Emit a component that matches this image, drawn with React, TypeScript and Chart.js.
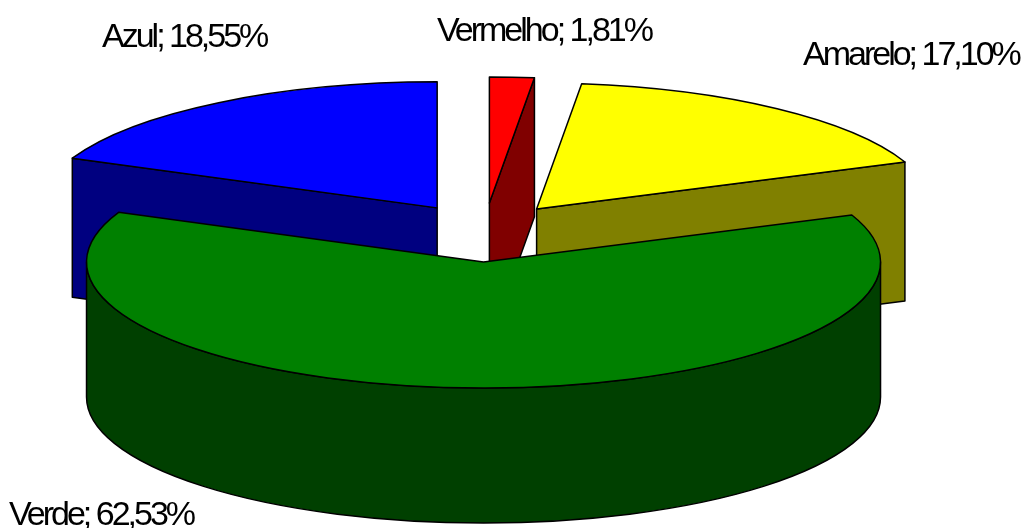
import React, { useEffect, useRef } from "react";
import { Chart, registerables } from "chart.js";

Chart.register(...registerables);

const categories = ["Vermelho", "Amarelo", "Verde", "Azul"];
const percentages = [1.81, 17.1, 62.53, 18.55];
const topColors = ["#FF0000", "#FFFF00", "#008000", "#0000FF"];
const wallColors = ["#800000", "#808000", "#004000", "#000080"];
const labelAnchors = [
  [437, 41],
  [803, 65],
  [9, 525],
  [102, 47],
];

const WIDTH = 1026;
const HEIGHT = 528;
const RADIUS = 397;
const EXPLODE = 86;
const ELLIPSE_Y = 126 / 397;
const EXPLODE_Y = 29.5 / 86;
const CENTER_Y = 232.5;
const WALL_DEPTH = 135;
const FACE_DEPTH = 139;

const pie3d = {
  id: "pie3d",
  beforeDatasetsDraw(chart: any) {
    const ctx: CanvasRenderingContext2D = chart.ctx;
    const arcs = chart.getDatasetMeta(0).data;
    const slices = arcs.map((arc: any, i: number) => {
      const p = arc.getProps(["x", "startAngle", "endAngle", "outerRadius"], true);
      const mid = (p.startAngle + p.endAngle) / 2;
      const off = arc.options.offset;
      return {
        i,
        start: p.startAngle,
        end: p.endAngle,
        rx: p.outerRadius,
        ry: p.outerRadius * ELLIPSE_Y,
        cx: p.x + Math.cos(mid) * off,
        cy: CENTER_Y + Math.sin(mid) * off * EXPLODE_Y,
      };
    });
    slices.sort((a: any, b: any) => a.cy - b.cy);

    ctx.save();
    ctx.lineWidth = 1.5;
    ctx.lineJoin = "round";
    ctx.strokeStyle = "#000";

    for (const s of slices) {
      const at = (t: number): [number, number] => [s.cx + s.rx * Math.cos(t), s.cy + s.ry * Math.sin(t)];
      const paint = (color: string) => {
        ctx.fillStyle = color;
        ctx.fill();
        ctx.stroke();
      };

      // radial cut faces that look towards the viewer
      const faces: number[] = [];
      if (Math.sin(s.start - Math.PI / 2) > 1e-3) faces.push(s.start);
      if (Math.sin(s.end + Math.PI / 2) > 1e-3) faces.push(s.end);
      for (const t of faces) {
        const [ex, ey] = at(t);
        ctx.beginPath();
        ctx.moveTo(s.cx, s.cy);
        ctx.lineTo(ex, ey);
        ctx.lineTo(ex, ey + FACE_DEPTH);
        ctx.lineTo(s.cx, s.cy + FACE_DEPTH);
        ctx.closePath();
        paint(wallColors[s.i]);
      }

      // outer curved wall, front half only
      const a = Math.max(s.start, 0);
      const b = Math.min(s.end, Math.PI);
      if (b > a) {
        ctx.beginPath();
        ctx.ellipse(s.cx, s.cy, s.rx, s.ry, 0, a, b);
        ctx.ellipse(s.cx, s.cy + WALL_DEPTH, s.rx, s.ry, 0, b, a, true);
        ctx.closePath();
        paint(wallColors[s.i]);
      }

      // top face
      ctx.beginPath();
      ctx.moveTo(s.cx, s.cy);
      ctx.ellipse(s.cx, s.cy, s.rx, s.ry, 0, s.start, s.end);
      ctx.closePath();
      paint(topColors[s.i]);
    }

    // labels
    ctx.fillStyle = "#000";
    ctx.font = "34px 'Liberation Sans'";
    (ctx as any).letterSpacing = "-3px";
    ctx.textAlign = "left";
    ctx.textBaseline = "alphabetic";
    categories.forEach((c, i) => {
      const text = `${c}; ${percentages[i].toFixed(2).replace(".", ",")}%`;
      ctx.fillText(text, labelAnchors[i][0], labelAnchors[i][1]);
    });
    ctx.restore();
    return false;
  },
};

export default function App() {
  const ref = useRef<HTMLCanvasElement>(null);
  useEffect(() => {
    const chart = new Chart(ref.current!, {
      type: "pie",
      data: {
        labels: categories,
        datasets: [
          {
            data: percentages,
            backgroundColor: topColors,
            offset: EXPLODE,
            borderWidth: 0,
          } as any,
        ],
      },
      options: {
        responsive: false,
        animation: false,
        radius: RADIUS,
        layout: { padding: { right: 57 } },
        plugins: { legend: { display: false }, tooltip: { enabled: false } },
      } as any,
      plugins: [pie3d],
    });
    return () => chart.destroy();
  }, []);
  return (
    <div style={{ position: "fixed", left: 0, top: 0, width: WIDTH, height: HEIGHT, background: "#fff" }}>
      <canvas ref={ref} width={WIDTH} height={HEIGHT} style={{ display: "block" }} />
    </div>
  );
}
